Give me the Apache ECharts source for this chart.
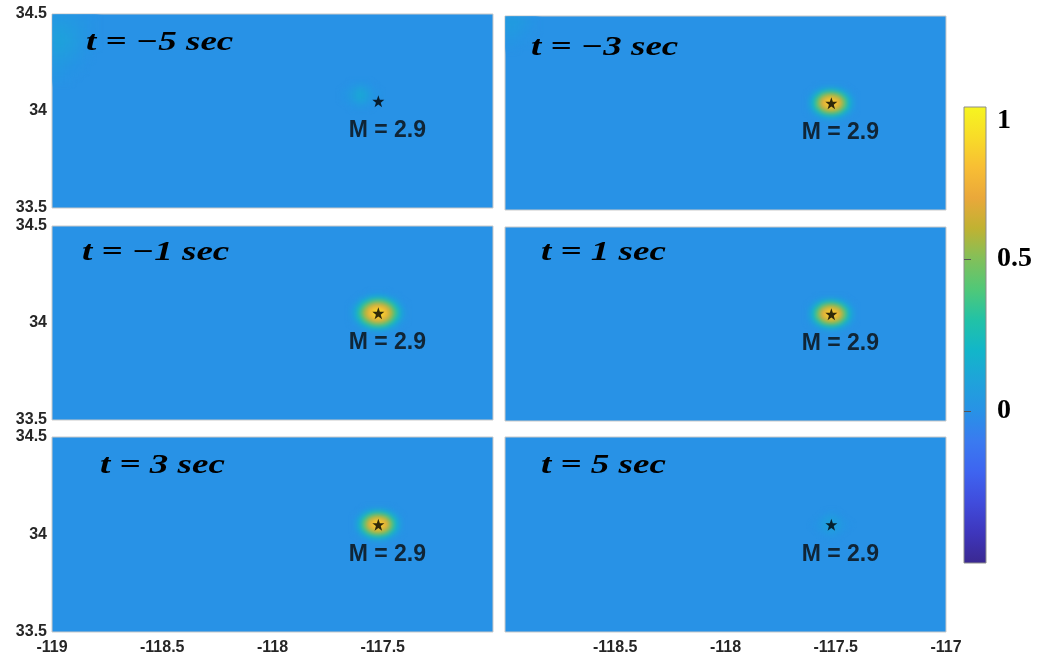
<!DOCTYPE html>
<html><head><meta charset="utf-8">
<script src="https://cdn.jsdelivr.net/npm/echarts@6/dist/echarts.min.js"></script>
<style>html,body{margin:0;padding:0;background:#fff}#c{width:1043px;height:657px}</style>
</head><body><div id="c"></div>
<script>
// ---------------- data ----------------
const times = [-5, -3, -1, 1, 3, 5];
const magnitudes = [2.9, 2.9, 2.9, 2.9, 2.9, 2.9];
const epicenterLon = [-117.52, -117.52, -117.52, -117.52, -117.52, -117.52];
const epicenterLat = [34.05, 34.05, 34.05, 34.05, 34.05, 34.05];
const baseLevel = [0, 0, 0, 0, 0, 0];
const lonTicks = [-119, -118.5, -118, -117.5, -117];
const latTicks = [33.5, 34, 34.5];
const colorbarTicks = [-0.5, 0, 0.5, 1];
// parula-like colour scale, values -0.5 .. 1.0 in steps of 0.1
const colorScale = ['#3A2890','#3E36BC','#404CDC','#3E64F0','#3A7AF0','#2892E6','#1FA3DA','#12B6C9',
                    '#22C2A6','#50C878','#82C05A','#C0B232','#EAA83A','#F8BE34','#F8DC28','#F6F520'];

// amplitude patches (rows north -> south, cols west -> east)
const blobStrong = [
  [0,0,0,0,.01,.02,.03,.02,.01,0,0,0,0],
  [0,0,.03,.05,.12,.16,.18,.16,.12,.05,.03,0,0],
  [0,.02,.10,.20,.32,.40,.44,.40,.32,.20,.10,.02,0],
  [.01,.08,.21,.39,.55,.67,.71,.67,.55,.39,.21,.08,.01],
  [.03,.14,.31,.54,.73,.83,.87,.83,.73,.54,.31,.14,.03],
  [.04,.16,.36,.59,.78,.89,.92,.89,.78,.59,.36,.16,.04],
  [.03,.14,.31,.54,.73,.83,.87,.83,.73,.54,.31,.14,.03],
  [.01,.08,.21,.39,.55,.67,.71,.67,.55,.39,.21,.08,.01],
  [0,.02,.10,.20,.32,.40,.44,.40,.32,.20,.10,.02,0],
  [0,0,.03,.05,.12,.16,.18,.16,.12,.05,.03,0,0],
  [0,0,0,0,.01,.02,.03,.02,.01,0,0,0,0]
];
const blobMid = [
  [0,0,.01,.04,.06,.07,.06,.04,.01,0,0],
  [0,.03,.10,.19,.27,.30,.27,.19,.10,.03,0],
  [.02,.11,.25,.44,.56,.61,.56,.44,.25,.11,.02],
  [.05,.19,.42,.64,.77,.82,.77,.64,.42,.19,.05],
  [.06,.22,.48,.72,.85,.90,.85,.72,.48,.22,.06],
  [.05,.19,.42,.64,.77,.82,.77,.64,.42,.19,.05],
  [.02,.11,.25,.44,.56,.61,.56,.44,.25,.11,.02],
  [0,.03,.10,.19,.27,.30,.27,.19,.10,.03,0],
  [0,0,.01,.04,.06,.07,.06,.04,.01,0,0]
];
const blobFaint = [
  [0,0,0,.01,.02,.01,0,0,0],
  [0,0,.02,.04,.05,.04,.02,0,0],
  [0,.02,.04,.07,.08,.07,.04,.02,0],
  [.01,.02,.05,.08,.10,.08,.05,.02,.01],
  [0,.02,.04,.07,.08,.07,.04,.02,0],
  [0,0,.02,.04,.05,.04,.02,0,0],
  [0,0,0,.01,.02,.01,0,0,0]
];
const blobFaintOff = [
  [0,0,.01,.02,.03,.02,.01,0,0],
  [0,.01,.03,.05,.07,.05,.03,.01,0],
  [.01,.02,.05,.09,.11,.09,.05,.02,.01],
  [.01,.03,.06,.10,.13,.10,.06,.03,.01],
  [.01,.02,.05,.09,.11,.09,.05,.02,.01],
  [0,.01,.03,.05,.07,.05,.03,.01,0],
  [0,0,.01,.02,.03,.02,.01,0,0]
];
const cornerGlowA = [
  [.04,.04,.035,.03,.02,.01,.005,0],
  [.05,.05,.045,.035,.025,.015,.005,0],
  [.07,.07,.06,.045,.03,.015,.005,0],
  [.08,.085,.07,.05,.03,.015,.005,0],
  [.09,.09,.075,.055,.035,.015,.005,0],
  [.085,.085,.07,.05,.03,.015,.005,0],
  [.075,.07,.06,.04,.025,.01,0,0],
  [.06,.055,.045,.03,.015,.005,0,0],
  [.045,.04,.03,.02,.01,0,0,0],
  [.035,.03,.02,.01,.005,0,0,0],
  [.025,.02,.01,.005,0,0,0,0],
  [.015,.01,.005,0,0,0,0,0]
];
const cornerGlowB = [
  [.06,.055,.04,.025,.01,0],
  [.06,.055,.04,.025,.01,0],
  [.05,.045,.03,.02,.005,0],
  [.035,.03,.02,.01,0,0],
  [.02,.015,.01,.005,0,0],
  [.01,.005,0,0,0,0]
];
// [matrix, centre lon, centre lat, cell dLon, cell dLat]
const panelPatches = [
  [[cornerGlowA, -118.88, 34.32, 0.03, 0.03], [blobFaintOff, -117.60, 34.08, 0.02, 0.02]],
  [[cornerGlowB, -118.91, 34.41, 0.03, 0.03], [blobMid, -117.52, 34.05, 0.02, 0.02]],
  [[blobStrong, -117.52, 34.05, 0.02, 0.02]],
  [[blobMid, -117.52, 34.05, 0.02, 0.02]],
  [[blobMid, -117.52, 34.05, 0.02, 0.02]],
  [[blobFaint, -117.52, 34.05, 0.02, 0.02]]
];

// ---------------- layout ----------------
const panelBoxes = [[52,14,441,194],[505,16,441,194],[52,226,441,194],[505,227,441,194],[52,437,441,195],[505,437,441,195]];
const titleAnchors = [[86,43],[531,48],[82,253],[541,253],[100,466],[541,466]];
const cbBox = [964,107,22,456];

function cellsFor(patches){
  const out=[];
  patches.forEach(([m,cLon,cLat,dLon,dLat])=>{
    const rows=m.length, cols=m[0].length;
    m.forEach((row,r)=>row.forEach((v,c)=>{
      if(v<=0) return;
      out.push([cLon+(c-(cols-1)/2)*dLon, cLat+((rows-1)/2-r)*dLat, v, dLon, dLat]);
    }));
  });
  return out;
}
function renderCell(params, api){
  const lon=api.value(0), lat=api.value(1), dl=api.value(3), dt=api.value(4);
  const p0=api.coord([lon-dl/2, lat+dt/2]);
  const p1=api.coord([lon+dl/2, lat-dt/2]);
  const shape=echarts.graphic.clipRectByRect({x:p0[0],y:p0[1],width:p1[0]-p0[0],height:p1[1]-p0[1]}, params.coordSys);
  if(!shape) return;
  const col=api.visual('color');
  return {type:'rect', shape, style:{fill:col, stroke:col, lineWidth:0.6}};
}
function renderBg(params, api){
  const cs=params.coordSys;
  return {type:'rect', shape:{x:cs.x,y:cs.y,width:cs.width,height:cs.height},
          style:{fill:api.visual('color'), stroke:'#c9c9c9', lineWidth:1}};
}
function renderBar(params, api){
  const p0=api.coord([0, api.value(1)]);
  const p1=api.coord([1, api.value(0)]);
  const stops=colorScale.map((c,i)=>({offset:i/(colorScale.length-1), color:c}));
  return {type:'rect', shape:{x:p0[0],y:p0[1],width:p1[0]-p0[0],height:p1[1]-p0[1]},
          style:{fill:new echarts.graphic.LinearGradient(0,1,0,0,stops), stroke:'#8c8c8c', lineWidth:1}};
}
const starPath='path://M12,1 L14.9,9.1 L23.5,9.1 L16.6,14.2 L19.2,22.5 L12,17.4 L4.8,22.5 L7.4,14.2 L0.5,9.1 L9.1,9.1 Z';
const labelFont={fontFamily:'"Liberation Sans", Arial, sans-serif', fontWeight:'bold', fontSize:16, color:'#262626'};

const grid=[], xAxis=[], yAxis=[], series=[], graphic=[], vmIdx=[];
panelBoxes.forEach((b,k)=>{
  const col=k%2, row=Math.floor(k/2);
  grid.push({left:b[0], top:b[1], width:b[2], height:b[3], containLabel:false});
  xAxis.push({type:'value', gridIndex:k, min:lonTicks[0], max:lonTicks[lonTicks.length-1], interval:0.5,
    axisLine:{show:false}, axisTick:{show:false}, splitLine:{show:false},
    axisLabel:Object.assign({show:row===2, margin:8, showMinLabel:col===0, showMaxLabel:col===1}, labelFont)});
  yAxis.push({type:'value', gridIndex:k, min:latTicks[0], max:latTicks[latTicks.length-1], interval:0.5,
    axisLine:{show:false}, axisTick:{show:false}, splitLine:{show:false},
    axisLabel:Object.assign({show:col===0, margin:5, showMinLabel:true, showMaxLabel:true}, labelFont)});
  vmIdx.push(series.length);
  series.push({type:'custom', xAxisIndex:k, yAxisIndex:k, renderItem:renderBg, silent:true, z:1, zlevel:0,
    data:[[(lonTicks[0]+lonTicks[lonTicks.length-1])/2,(latTicks[0]+latTicks[latTicks.length-1])/2, baseLevel[k]]]});
  vmIdx.push(series.length);
  series.push({type:'custom', xAxisIndex:k, yAxisIndex:k, renderItem:renderCell, silent:true, z:2, zlevel:1,
    data:cellsFor(panelPatches[k])});
  series.push({type:'scatter', xAxisIndex:k, yAxisIndex:k, z:5, zlevel:2, silent:true,
    symbol:starPath, symbolSize:12, itemStyle:{color:'#000'},
    data:[[epicenterLon[k], epicenterLat[k], magnitudes[k]]],
    label:{show:true, position:'bottom', distance:12, offset:[9,0],
      formatter:p=>'M = '+p.value[2].toFixed(1),
      fontFamily:'"Liberation Sans", Arial, sans-serif', fontWeight:'bold', fontSize:23, color:'#0a0a0a'}});
  const t=times[k];
  graphic.push({type:'text', x:titleAnchors[k][0], y:titleAnchors[k][1], scaleX:1.37, z:10, zlevel:2,
    style:{text:'t = '+(t<0?'\u2212':'')+Math.abs(t)+' sec', fontFamily:'"Liberation Serif", "Times New Roman", serif',
      fontStyle:'italic', fontWeight:'bold', fontSize:27, fill:'#000', textVerticalAlign:'middle'}});
});
// colour bar
const cbi=panelBoxes.length;
grid.push({left:cbBox[0], top:cbBox[1], width:cbBox[2], height:cbBox[3]});
xAxis.push({type:'value', gridIndex:cbi, min:0, max:1, show:false});
yAxis.push({type:'value', gridIndex:cbi, position:'right', min:colorbarTicks[0], max:colorbarTicks[colorbarTicks.length-1], interval:0.5,
  axisLine:{show:false}, axisTick:{show:false}, splitLine:{show:false},
  axisLabel:{show:true, margin:11, showMinLabel:false, verticalAlignMaxLabel:'top',
    fontFamily:'"Liberation Serif", "Times New Roman", serif', fontWeight:'bold', fontSize:28, color:'#000'}});
yAxis.push({type:'value', gridIndex:cbi, position:'left', min:colorbarTicks[0], max:colorbarTicks[colorbarTicks.length-1], interval:0.5, z:10,
  axisLine:{show:false}, axisLabel:{show:false}, splitLine:{show:false},
  axisTick:{show:true, inside:true, length:7, lineStyle:{color:'#555', width:1},
    customValues:[0, 0.5]}});
series.push({type:'custom', xAxisIndex:cbi, yAxisIndex:cbi, renderItem:renderBar, silent:true, z:1,
  data:[[colorbarTicks[0], colorbarTicks[colorbarTicks.length-1]]]});

const chart=echarts.init(document.getElementById('c'));
// the amplitude-field layer is drawn on its own canvas and softened like a shaded (interpolated) image,
// then clipped to the map panels
function softenField(){
  try{
    const layer=chart.getZr().painter.getLayer(1);
    if(layer && layer.dom){
      layer.dom.style.filter='blur(2.2px)';
      const d=panelBoxes.map(b=>'M'+b[0]+' '+b[1]+' h'+b[2]+' v'+b[3]+' h'+(-b[2])+' Z').join(' ');
      layer.dom.style.clipPath="path('"+d+"')";
    }
  }catch(e){}
}
chart.on('finished', softenField);
chart.setOption({
  backgroundColor:'#ffffff', animation:false,
  grid, xAxis, yAxis, series, graphic,
  visualMap:{type:'continuous', show:false, min:-0.5, max:1, dimension:2, seriesIndex:vmIdx, inRange:{color:colorScale}}
});
softenField();
</script></body></html>
